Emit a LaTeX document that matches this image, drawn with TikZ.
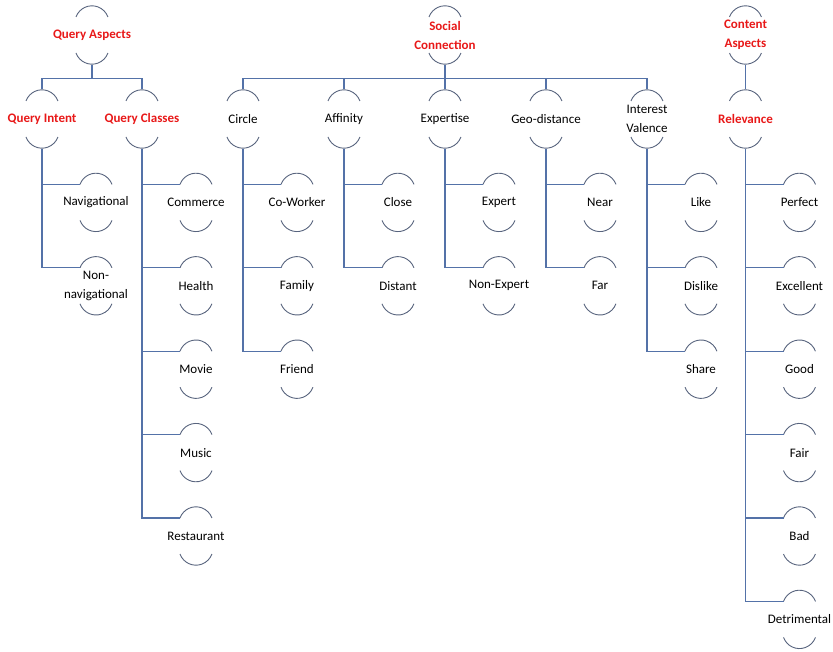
\documentclass[tikz,border=0pt]{standalone}
\usepackage{fontspec}
\setmainfont{Carlito}
\usepackage{tikz}
\usetikzlibrary{trees}

\definecolor{linkblue}{RGB}{84,114,168}
\definecolor{arcgrey}{RGB}{88,100,126}
\definecolor{headred}{RGB}{232,24,24}

\begin{document}
\begin{tikzpicture}[x=1pt,y=-1pt,level distance=84pt]
\tikzstyle{every node}=[shape=rectangle,minimum width=40pt,minimum height=60pt,inner sep=1pt,
	align=center,font=\fontsize{13}{19}\selectfont,
	path picture={
		\draw[arcgrey,line width=0.9pt] ([shift={(-16pt,18pt)}]path picture bounding box.center)
			arc[start angle=160,end angle=20,radius=17pt];
		\draw[arcgrey,line width=0.9pt] ([shift={(-16pt,-18pt)}]path picture bounding box.center)
			arc[start angle=200,end angle=340,radius=17pt];
	}];
\tikzstyle{head}=[text=headred,font=\fontsize{13}{19}\selectfont\bfseries];
\tikzstyle{edge from parent}=[draw=linkblue,line width=1.2pt];
\tikzstyle{level 1}=[edge from parent path={(\tikzparentnode.south) -- ++(0,13) -| (\tikzchildnode.north)}];
\tikzstyle{level 2}=[grow via three points={one child at (54,83.4) and two children at (54,83.4) and (54,166.8)},
	edge from parent path={(\tikzparentnode.south) |- ([shift={(-16pt,18pt)}]\tikzchildnode.center)}];
\useasboundingbox (0,0) rectangle (833,652);

\node[head] (qa) at (92,35) {Query Aspects}[sibling distance=100pt]
child { node[head] (qi) {Query Intent}
	child { node (nav) {Navigational} }
	child { node (nonnav) {Non-\\navigational} }
}
child { node[head] (qc) {Query Classes}
	child { node (commerce) {Commerce} }
	child { node (health) {Health} }
	child { node (movie) {Movie} }
	child { node (music) {Music} }
	child { node (restaurant) {Restaurant} }
};

\node[head] (sc) at (445,35) {Social\\Connection}[sibling distance=101pt]
child { node (circle) {Circle}
	child { node (coworker) {Co-Worker} }
	child { node (family) {Family} }
	child { node (friend) {Friend} }
}
child { node (affinity) {Affinity}
	child { node (close) {Close} }
	child { node (distant) {Distant} }
}
child { node (expertise) {Expertise}
	child { node (expert) {Expert} }
	child { node (nonexpert) {Non-Expert} }
}
child { node (geo) {Geo-distance}
	child { node (near) {Near} }
	child { node (far) {Far} }
}
child { node (valence) {Interest\\Valence}
	child { node (like) {Like} }
	child { node (dislike) {Dislike} }
	child { node (share) {Share} }
};

\node[head] (ca) at (745.5,35) {Content\\Aspects}
child { node[head] (rel) {Relevance}
	child { node (perfect) {Perfect} }
	child { node (excellent) {Excellent} }
	child { node (good) {Good} }
	child { node (fair) {Fair} }
	child { node (bad) {Bad} }
	child { node (detrimental) {Detrimental} }
};
\end{tikzpicture}
\end{document}
